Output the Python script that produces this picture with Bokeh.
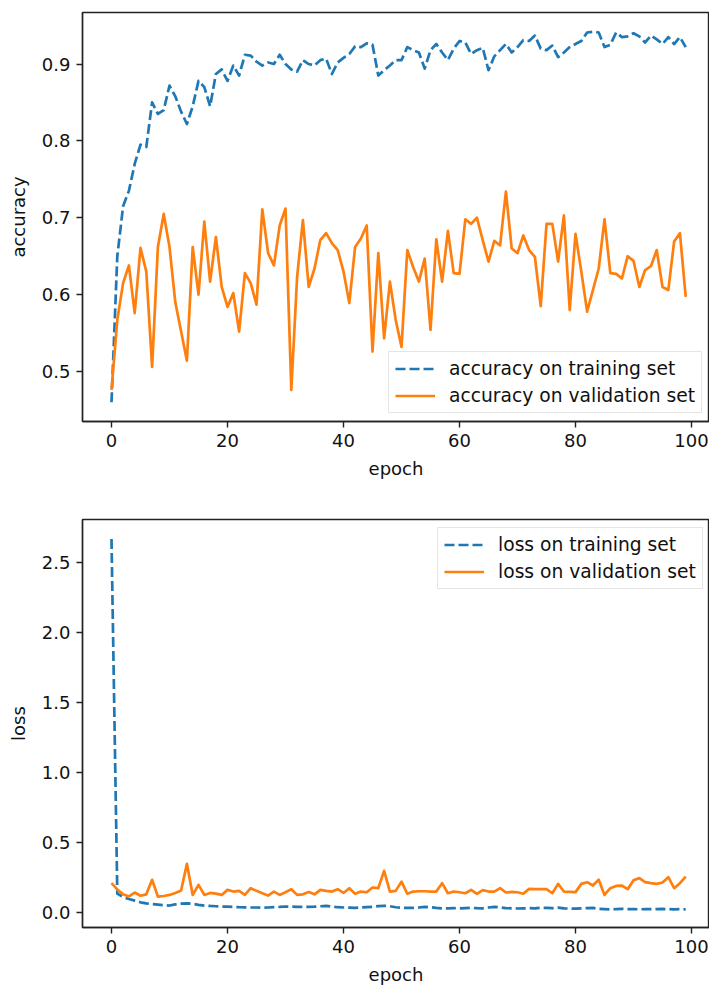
from bokeh.plotting import figure
from bokeh.layouts import column
from bokeh.models import Range1d, FixedTicker, PrintfTickFormatter, Legend, LegendItem
from bokeh.embed import file_html
from bokeh.resources import INLINE

# Training history, one value per epoch
epochs = list(range(100))

train_acc = [
    0.460, 0.650, 0.715, 0.735, 0.770, 0.795, 0.792, 0.850, 0.835, 0.840,
    0.872, 0.858, 0.838, 0.822, 0.845, 0.878, 0.870, 0.845, 0.887, 0.893,
    0.878, 0.898, 0.885, 0.912, 0.911, 0.903, 0.898, 0.902, 0.900, 0.912,
    0.900, 0.893, 0.890, 0.905, 0.900, 0.898, 0.905, 0.907, 0.887, 0.902,
    0.908, 0.913, 0.923, 0.922, 0.927, 0.925, 0.885, 0.892, 0.898, 0.905,
    0.905, 0.922, 0.918, 0.915, 0.894, 0.918, 0.926, 0.915, 0.905, 0.920,
    0.930, 0.928, 0.913, 0.918, 0.921, 0.892, 0.910, 0.918, 0.926, 0.915,
    0.922, 0.931, 0.930, 0.937, 0.920, 0.918, 0.924, 0.909, 0.915, 0.922,
    0.926, 0.930, 0.941, 0.942, 0.941, 0.922, 0.925, 0.941, 0.935, 0.936,
    0.940, 0.936, 0.928, 0.937, 0.932, 0.926, 0.935, 0.926, 0.935, 0.922,
]

val_acc = [
    0.476, 0.567, 0.615, 0.638, 0.576, 0.661, 0.630, 0.506, 0.662, 0.705,
    0.662, 0.590, 0.552, 0.514, 0.662, 0.600, 0.695, 0.617, 0.675, 0.610,
    0.584, 0.602, 0.552, 0.628, 0.615, 0.587, 0.711, 0.654, 0.638, 0.690,
    0.712, 0.476, 0.623, 0.697, 0.610, 0.634, 0.671, 0.680, 0.667, 0.658,
    0.630, 0.589, 0.662, 0.673, 0.690, 0.526, 0.654, 0.543, 0.617, 0.567,
    0.532, 0.658, 0.636, 0.617, 0.647, 0.554, 0.672, 0.617, 0.683, 0.628,
    0.627, 0.698, 0.692, 0.700, 0.671, 0.643, 0.670, 0.664, 0.734, 0.660,
    0.654, 0.677, 0.658, 0.649, 0.585, 0.692, 0.692, 0.643, 0.703, 0.580,
    0.679, 0.630, 0.578, 0.606, 0.634, 0.698, 0.628, 0.627, 0.621, 0.650,
    0.644, 0.610, 0.632, 0.637, 0.658, 0.610, 0.606, 0.669, 0.680, 0.597,
]

train_loss = [
    2.670, 0.135, 0.110, 0.097, 0.085, 0.073, 0.065, 0.060, 0.056, 0.052,
    0.050, 0.058, 0.064, 0.066, 0.062, 0.055, 0.050, 0.047, 0.045, 0.043,
    0.042, 0.040, 0.038, 0.037, 0.036, 0.036, 0.034, 0.036, 0.038, 0.040,
    0.043, 0.042, 0.040, 0.041, 0.040, 0.042, 0.045, 0.048, 0.042, 0.038,
    0.036, 0.035, 0.034, 0.036, 0.038, 0.040, 0.046, 0.048, 0.045, 0.038,
    0.034, 0.033, 0.034, 0.036, 0.040, 0.038, 0.033, 0.030, 0.030, 0.031,
    0.030, 0.032, 0.034, 0.031, 0.030, 0.036, 0.040, 0.037, 0.032, 0.030,
    0.029, 0.030, 0.031, 0.030, 0.034, 0.033, 0.031, 0.035, 0.030, 0.028,
    0.028, 0.030, 0.032, 0.033, 0.026, 0.024, 0.022, 0.025, 0.026, 0.025,
    0.024, 0.023, 0.024, 0.024, 0.025, 0.026, 0.024, 0.023, 0.024, 0.023,
]

val_loss = [
    0.210, 0.165, 0.130, 0.115, 0.143, 0.120, 0.130, 0.234, 0.114, 0.118,
    0.126, 0.140, 0.157, 0.348, 0.126, 0.198, 0.126, 0.140, 0.135, 0.126,
    0.162, 0.150, 0.155, 0.126, 0.174, 0.155, 0.138, 0.121, 0.150, 0.126,
    0.145, 0.167, 0.126, 0.130, 0.146, 0.130, 0.162, 0.155, 0.150, 0.167,
    0.140, 0.174, 0.134, 0.150, 0.145, 0.179, 0.174, 0.298, 0.150, 0.155,
    0.221, 0.134, 0.150, 0.152, 0.152, 0.150, 0.150, 0.210, 0.138, 0.150,
    0.145, 0.138, 0.162, 0.134, 0.160, 0.150, 0.150, 0.174, 0.143, 0.148,
    0.145, 0.134, 0.169, 0.168, 0.167, 0.167, 0.138, 0.205, 0.150, 0.148,
    0.146, 0.205, 0.217, 0.193, 0.234, 0.126, 0.174, 0.190, 0.193, 0.167,
    0.230, 0.246, 0.217, 0.210, 0.205, 0.215, 0.253, 0.174, 0.210, 0.257,
]

x_ticks = [0, 20, 40, 60, 80, 100]
acc_ticks = [0.5, 0.6, 0.7, 0.8, 0.9]
loss_ticks = [0.0, 0.5, 1.0, 1.5, 2.0, 2.5]

BLUE = "#1f77b4"
ORANGE = "#ff7f0e"
FONT = "DejaVu Sans"
FSIZE = "18px"
LEGEND_FSIZE = "18.7px"
LW = 2.7
DASH = "10 4"


def styled_figure(height, y_range, y_ticks, y_label, border_top, border_bottom):
    p = figure(
        width=709, height=height,
        x_range=Range1d(-5.0, 103.1), y_range=Range1d(*y_range),
        output_backend="svg", toolbar_location=None,
        min_border_left=82, min_border_right=0,
        min_border_top=border_top, min_border_bottom=border_bottom,
        background_fill_color="white", border_fill_color="white",
    )
    p.outline_line_color = "#222222"
    p.outline_line_width = 1.4
    p.xgrid.visible = False
    p.ygrid.visible = False

    p.xaxis.ticker = FixedTicker(ticks=x_ticks)
    p.yaxis.ticker = FixedTicker(ticks=y_ticks)
    p.xaxis.formatter = PrintfTickFormatter(format="%d")
    p.yaxis.formatter = PrintfTickFormatter(format="%.1f")

    for ax in (p.xaxis[0], p.yaxis[0]):
        ax.axis_line_color = "#222222"
        ax.axis_line_width = 1.4
        ax.major_tick_line_color = "#222222"
        ax.major_tick_line_width = 1.4
        ax.major_tick_in = 0
        ax.major_tick_out = 6
        ax.minor_tick_line_color = None
        ax.major_label_standoff = 6
        ax.major_label_text_font = FONT
        ax.major_label_text_font_size = FSIZE
        ax.major_label_text_color = "#111111"
        ax.axis_label_text_font = FONT
        ax.axis_label_text_font_size = FSIZE
        ax.axis_label_text_font_style = "normal"
        ax.axis_label_text_color = "#111111"

    p.xaxis.axis_label = "epoch"
    p.xaxis.axis_label_standoff = 8
    p.yaxis.axis_label = y_label
    p.yaxis.axis_label_standoff = 10
    return p


def add_legend(p, items, location):
    # location: bottom-left corner of the legend box, in pixels from the
    # bottom-left corner of the plot frame
    legend = Legend(
        items=items, location=location, margin=0,
        padding=6, spacing=6, label_height=21, glyph_height=21,
        glyph_width=40, label_standoff=14,
        label_text_font=FONT, label_text_font_size=LEGEND_FSIZE,
        label_text_color="#111111",
        border_line_color="#cccccc", border_line_width=1.4,
        background_fill_color="white", background_fill_alpha=0.8,
    )
    p.add_layout(legend, "center")


# Accuracy panel
p1 = styled_figure(493, (0.435, 0.967), acc_ticks, "accuracy", 12, 72)
r1 = p1.line(epochs, train_acc, line_color=BLUE, line_width=LW,
             line_dash=DASH, line_join="round")
r2 = p1.line(epochs, val_acc, line_color=ORANGE, line_width=LW,
             line_join="round")
add_legend(p1, [LegendItem(label="accuracy on training set", renderers=[r1]),
                LegendItem(label="accuracy on validation set", renderers=[r2])],
           (306, 8))

# Loss panel
p2 = styled_figure(496, (-0.107, 2.81), loss_ticks, "loss", 26, 62)
r3 = p2.line(epochs, train_loss, line_color=BLUE, line_width=LW,
             line_dash=DASH, line_join="round")
r4 = p2.line(epochs, val_loss, line_color=ORANGE, line_width=LW,
             line_join="round")
add_legend(p2, [LegendItem(label="loss on training set", renderers=[r3]),
                LegendItem(label="loss on validation set", renderers=[r4])],
           (355, 338))

layout = column(p1, p2, spacing=0)
open("out.html", "w").write(file_html(layout, INLINE))
